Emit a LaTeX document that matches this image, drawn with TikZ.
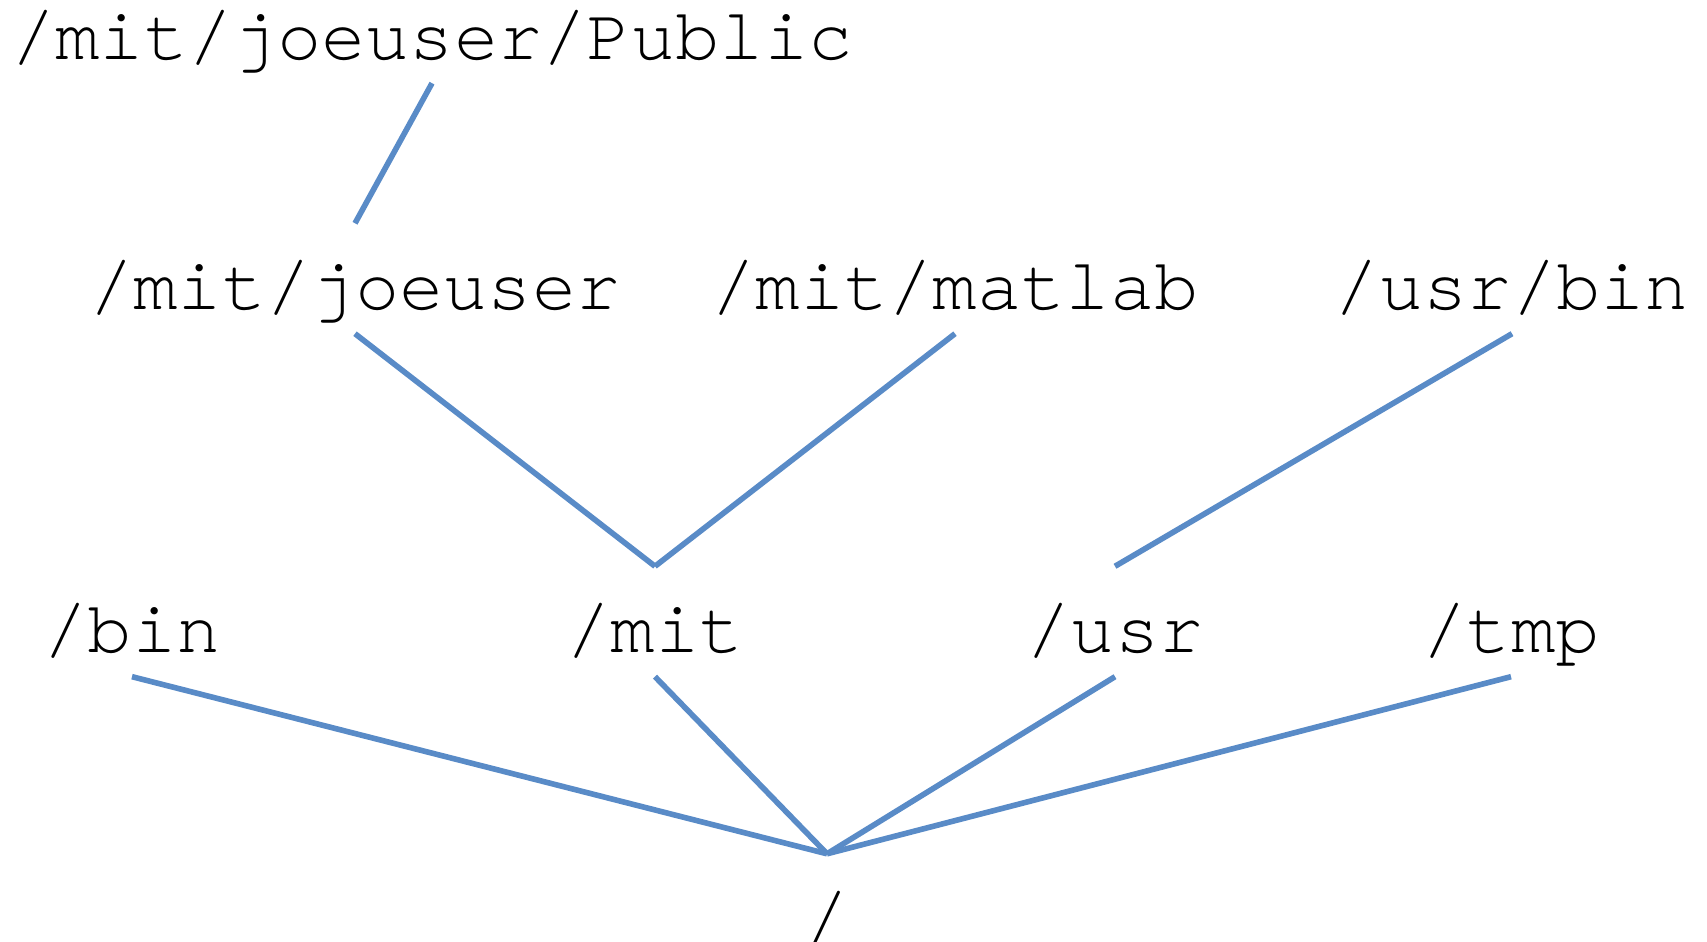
\documentclass[tikz,border=0pt]{standalone}
\usepackage{fontspec}
\setmonofont{TeX Gyre Cursor}
\usepackage{tikz}

\definecolor{linkblue}{RGB}{89,139,199}

\begin{document}
\begin{tikzpicture}
        \tikzset{dir/.style={font=\ttfamily\fontsize{21pt}{25pt}\selectfont,
            text height=18.9pt,text depth=1.05pt,minimum height=1.09cm,inner sep=0pt}}
        \tikzset{link/.style={draw=linkblue,line width=1.6pt}}
        \useasboundingbox (0,0) rectangle (17.07,9.42);

        \node[dir] (pub) at (4.32, 9.14) {/mit/joeuser/Public};
        \node[dir] (joe) at (3.55, 6.635) {/mit/joeuser};
        \node[dir] (mat) at (9.55, 6.635) {/mit/matlab};
        \node[dir] (ubin) at (15.12, 6.635) {/usr/bin};
        \node[dir] (bin) at (1.32, 3.205) {/bin};
        \node[dir] (mit) at (6.55, 3.205) {/mit};
        \node[dir] (usr) at (11.15, 3.205) {/usr};
        \node[dir] (tmp) at (15.11, 3.205) {/tmp};
        \node[dir] (root) at (8.27, 0.33) {/};

        \draw[link] (pub.south)--(joe.north);
        \draw[link] (joe.south)--(mit.north);
        \draw[link] (mat.south)--(mit.north);
        \draw[link] (ubin.south)--(usr.north);

        \draw[link] (bin.south)--(root.north);
        \draw[link] (mit.south)--(root.north);
        \draw[link] (usr.south)--(root.north);
        \draw[link] (tmp.south)--(root.north);
    \end{tikzpicture}
\end{document}
